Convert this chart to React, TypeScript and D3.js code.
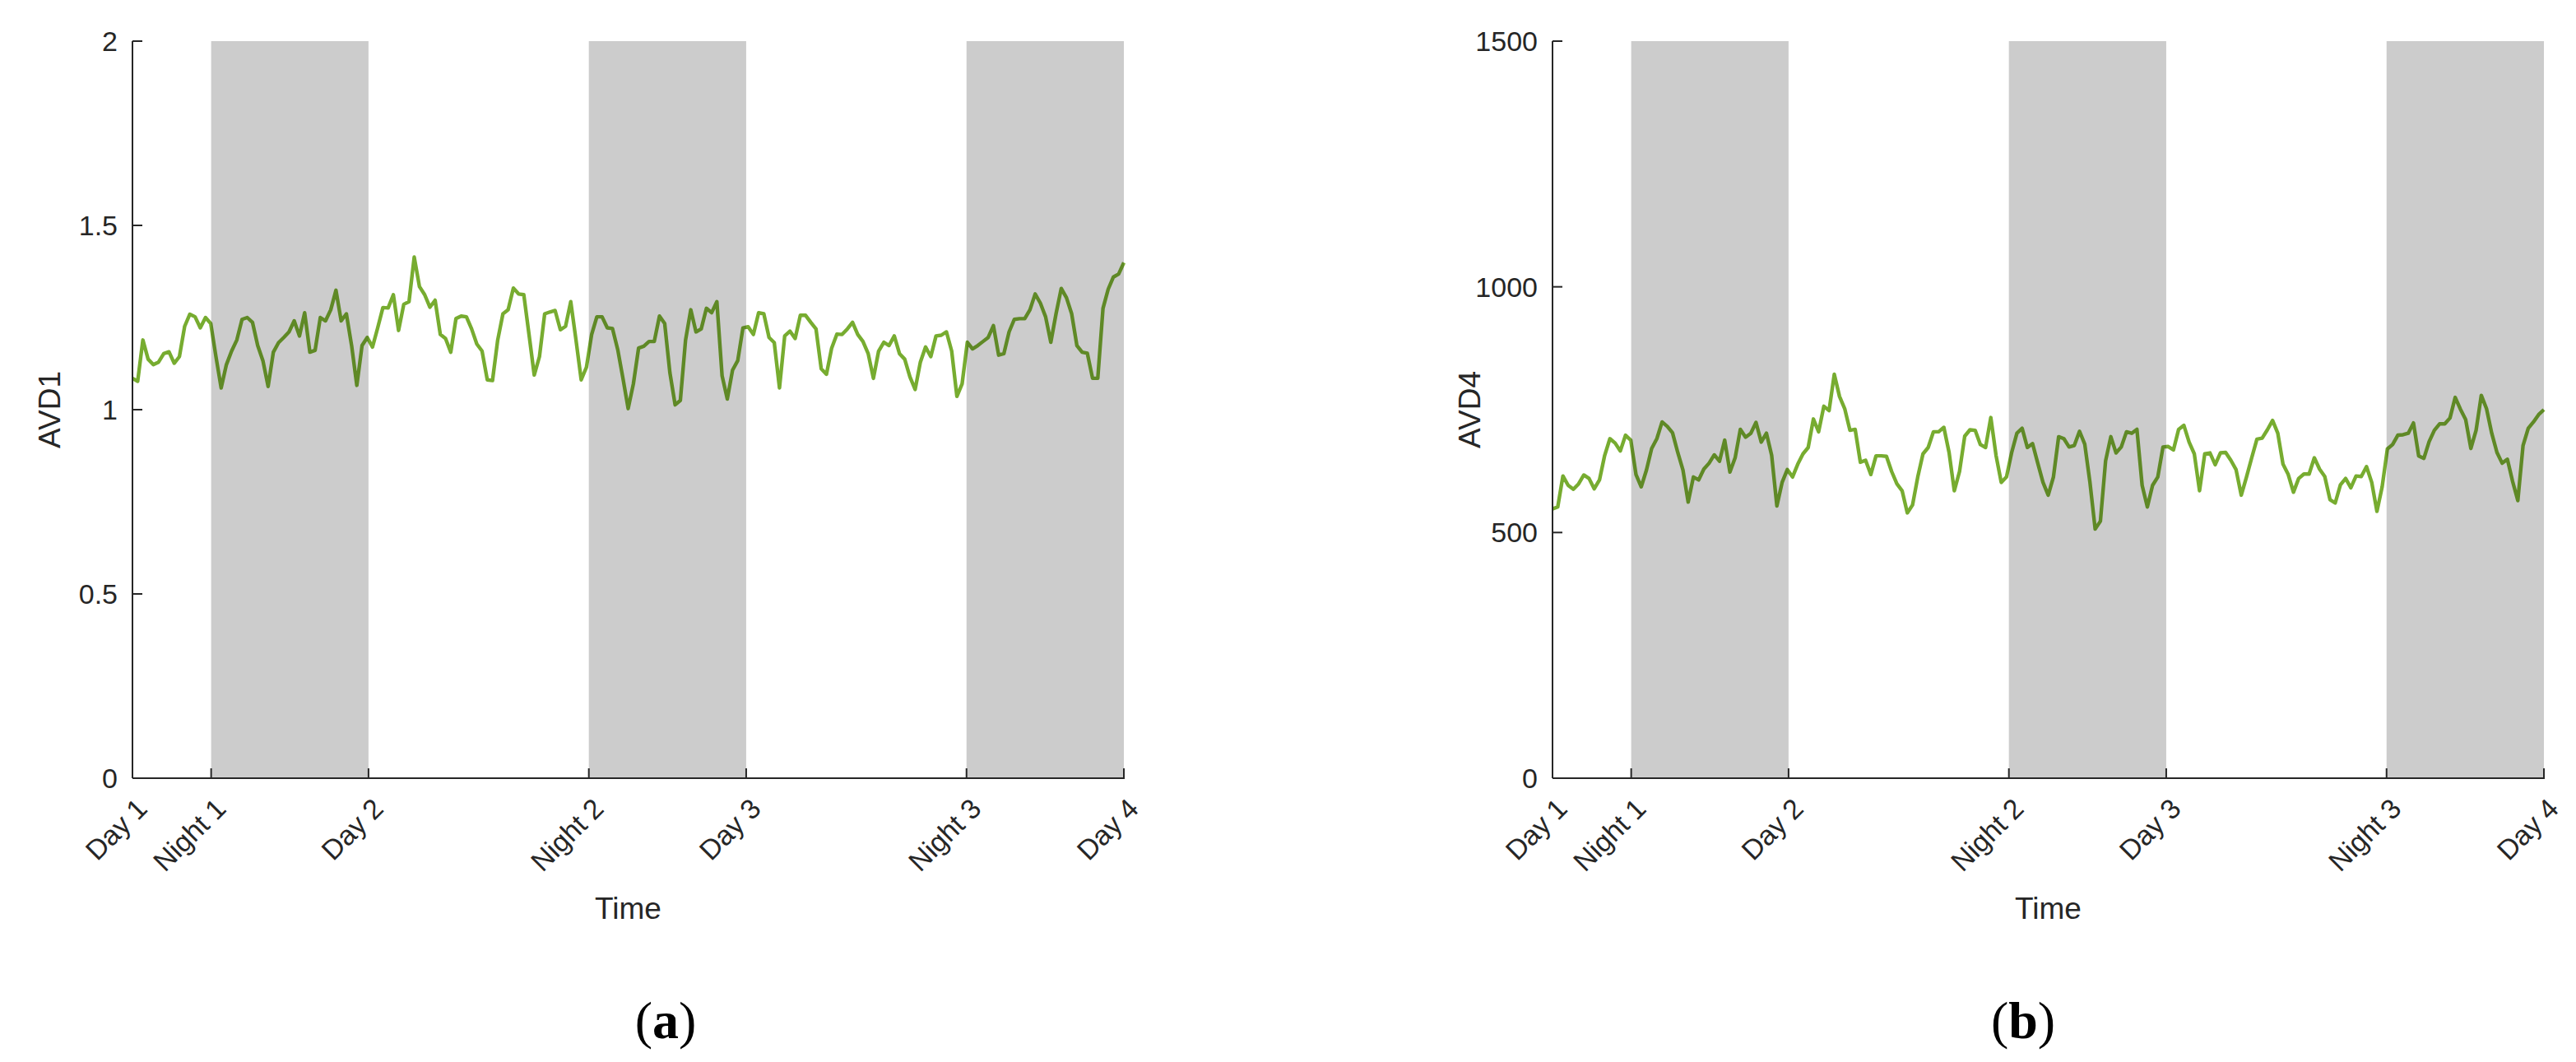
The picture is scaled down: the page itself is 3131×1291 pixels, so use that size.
import React from 'react';
import * as d3 from 'd3';

// ---- data ----
const tickLabels = ['Day 1', 'Night 1', 'Day 2', 'Night 2', 'Day 3', 'Night 3', 'Day 4'];
const tickHours = [0, 5, 15, 29, 39, 53, 63];
const nightStarts = [5, 29, 53];
const nightEnds = [15, 39, 63];
const totalHours = 63;

const avd1 = [
  1.085, 1.077, 1.189, 1.137, 1.122, 1.129, 1.152, 1.157, 1.126, 1.144,
  1.226, 1.259, 1.252, 1.222, 1.25, 1.234, 1.144, 1.059, 1.122, 1.159,
  1.189, 1.245, 1.25, 1.237, 1.174, 1.133, 1.063, 1.156, 1.182, 1.196,
  1.211, 1.241, 1.2, 1.263, 1.156, 1.161, 1.25, 1.241, 1.271, 1.324,
  1.241, 1.26, 1.174, 1.066, 1.174, 1.196, 1.17, 1.222, 1.277, 1.276,
  1.312, 1.215, 1.286, 1.293, 1.414, 1.334, 1.312, 1.278, 1.297, 1.204,
  1.193, 1.156, 1.247, 1.254, 1.252, 1.219, 1.178, 1.159, 1.081, 1.079,
  1.189, 1.26, 1.271, 1.33, 1.314, 1.312, 1.204, 1.094, 1.144, 1.26,
  1.265, 1.269, 1.217, 1.226, 1.293, 1.189, 1.081, 1.115, 1.204, 1.252,
  1.252, 1.222, 1.22, 1.163, 1.085, 1.003, 1.07, 1.167, 1.172, 1.185,
  1.185, 1.254, 1.234, 1.1, 1.013, 1.025, 1.189, 1.271, 1.211, 1.219,
  1.275, 1.263, 1.293, 1.092, 1.029, 1.107, 1.133, 1.222, 1.225, 1.204,
  1.263, 1.26, 1.196, 1.182, 1.059, 1.2, 1.213, 1.193, 1.256, 1.256,
  1.237, 1.219, 1.111, 1.096, 1.167, 1.205, 1.204, 1.219, 1.237, 1.204,
  1.185, 1.152, 1.085, 1.159, 1.183, 1.174, 1.2, 1.152, 1.137, 1.089,
  1.055, 1.129, 1.17, 1.144, 1.2, 1.202, 1.211, 1.159, 1.036, 1.07,
  1.183, 1.165, 1.174, 1.185, 1.196, 1.228, 1.148, 1.152, 1.211, 1.245,
  1.247, 1.247, 1.271, 1.314, 1.289, 1.252, 1.183, 1.26, 1.329, 1.304,
  1.26, 1.174, 1.156, 1.153, 1.085, 1.085, 1.275, 1.327, 1.36, 1.368,
  1.399,
];

const avd4 = [
  548, 552, 615, 596, 588, 599, 617, 610, 589, 607,
  657, 691, 682, 666, 698, 688, 618, 593, 627, 671,
  691, 725, 716, 703, 663, 627, 562, 613, 607, 629,
  641, 658, 645, 688, 623, 652, 710, 694, 702, 724,
  684, 702, 657, 554, 602, 628, 613, 639, 660, 673,
  731, 705, 757, 748, 822, 777, 752, 708, 710, 643,
  647, 618, 656, 656, 655, 624, 599, 585, 540, 556,
  613, 660, 673, 705, 705, 714, 663, 585, 624, 696,
  709, 708, 679, 673, 734, 657, 602, 613, 663, 702,
  712, 673, 681, 641, 602, 576, 613, 695, 691, 674,
  677, 706, 680, 602, 507, 523, 646, 695, 662, 674,
  705, 702, 710, 596, 552, 596, 613, 674, 675, 668,
  710, 718, 684, 660, 585, 660, 662, 638, 662, 663,
  647, 628, 576, 613, 652, 690, 692, 709, 728, 702,
  639, 618, 582, 610, 619, 619, 652, 629, 614, 567,
  560, 597, 610, 591, 615, 614, 634, 602, 543, 593,
  670, 679, 698, 699, 702, 723, 656, 651, 685, 708,
  721, 721, 733, 775, 751, 730, 671, 708, 779, 752,
  702, 663, 641, 649, 604, 565, 677, 712, 725, 740,
  750,
];

const yTicksA = [0, 0.5, 1, 1.5, 2];
const yTicksB = [0, 500, 1000, 1500];

const AXIS = '#262626';
const LINE = '#77AC30';
const SANS = '"Liberation Sans", Arial, Helvetica, sans-serif';
const SERIF = '"Liberation Serif", "Times New Roman", serif';

type PanelProps = {
  x0: number;
  values: number[];
  yMax: number;
  yTicks: number[];
  yLabel: string;
  tag: string;
  tagX: number;
};

const TOP = 50;
const BOTTOM = 946;
const WIDTH = 1205;

function Panel({ x0, values, yMax, yTicks, yLabel, tag, tagX }: PanelProps) {
  const x = d3.scaleLinear().domain([0, totalHours]).range([x0, x0 + WIDTH]);
  const y = d3.scaleLinear().domain([0, yMax]).range([BOTTOM, TOP]);
  const n = values.length;
  const line = d3
    .line<number>()
    .x((_, i) => x((i * totalHours) / (n - 1)))
    .y((d) => y(d));
  const tickLen = 12;
  return (
    <g>
      <path d={line(values) || ''} fill="none" stroke={LINE} strokeWidth={4.4} strokeLinejoin="round" />
      {nightStarts.map((s, k) => (
        <rect
          key={k}
          x={x(s)}
          y={TOP}
          width={x(nightEnds[k]) - x(s)}
          height={BOTTOM - TOP}
          fill="#000"
          fillOpacity={0.2}
        />
      ))}
      {/* axes */}
      <line x1={x0} x2={x0} y1={TOP} y2={BOTTOM} stroke={AXIS} strokeWidth={2} />
      <line x1={x0} x2={x0 + WIDTH + 1} y1={BOTTOM} y2={BOTTOM} stroke={AXIS} strokeWidth={2} />
      {yTicks.map((t) => (
        <g key={t}>
          <line x1={x0} x2={x0 + tickLen} y1={y(t)} y2={y(t)} stroke={AXIS} strokeWidth={2} />
          <text
            x={x0 - 18}
            y={y(t)}
            textAnchor="end"
            dominantBaseline="central"
            fontFamily={SANS}
            fontSize={34}
            fill={AXIS}
          >
            {String(t)}
          </text>
        </g>
      ))}
      {tickHours.map((h, k) => (
        <g key={k}>
          <line x1={x(h)} x2={x(h)} y1={BOTTOM} y2={BOTTOM - tickLen} stroke={AXIS} strokeWidth={2} />
          <text
            transform={`translate(${x(h) + 20},${BOTTOM + 39}) rotate(-45)`}
            textAnchor="end"
            fontFamily={SANS}
            fontSize={34}
            fill={AXIS}
          >
            {tickLabels[k]}
          </text>
        </g>
      ))}
      <text
        transform={`translate(${x0 - 101},${(TOP + BOTTOM) / 2}) rotate(-90)`}
        textAnchor="middle"
        dominantBaseline="central"
        fontFamily={SANS}
        fontSize={37}
        fill={AXIS}
      >
        {yLabel}
      </text>
      <text
        x={x0 + WIDTH / 2}
        y={1104}
        textAnchor="middle"
        dominantBaseline="central"
        fontFamily={SANS}
        fontSize={37}
        fill={AXIS}
      >
        Time
      </text>
      <text x={tagX} y={1262} textAnchor="middle" fontFamily={SERIF} fontSize={64} fill="#000">
        (<tspan fontWeight="bold">{tag}</tspan>)
      </text>
    </g>
  );
}

export default function App() {
  return (
    <div style={{ position: 'absolute', left: 0, top: 0 }}>
      <svg width={3131} height={1291} style={{ display: 'block', background: '#fff' }}>
        <rect x={0} y={0} width={3131} height={1291} fill="#fff" />
        <Panel x0={161} values={avd1} yMax={2} yTicks={yTicksA} yLabel="AVD1" tag="a" tagX={809} />
        <Panel x0={1887} values={avd4} yMax={1500} yTicks={yTicksB} yLabel="AVD4" tag="b" tagX={2459} />
      </svg>
    </div>
  );
}
